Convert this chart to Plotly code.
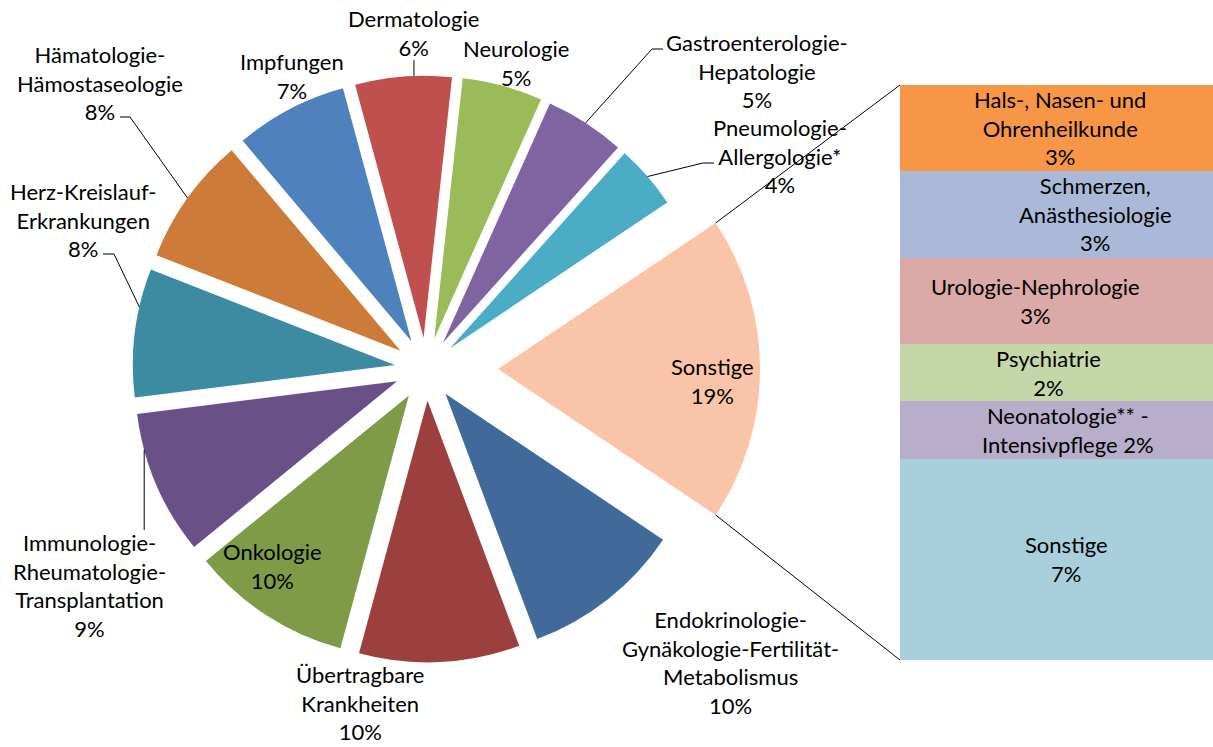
import math
import plotly.graph_objects as go

# ---------------- data ----------------
categories = [
    "Sonstige",
    "Endokrinologie-Gynäkologie-Fertilität-Metabolismus",
    "Übertragbare Krankheiten",
    "Onkologie",
    "Immunologie-Rheumatologie-Transplantation",
    "Herz-Kreislauf-Erkrankungen",
    "Hämatologie-Hämostaseologie",
    "Impfungen",
    "Dermatologie",
    "Neurologie",
    "Gastroenterologie-Hepatologie",
    "Pneumologie-Allergologie*",
]
shares = [19, 10, 10, 10, 9, 8, 8, 7, 6, 5, 5, 4]
label_names = [
    "Sonstige",
    "Endokrinologie-<br>Gynäkologie-Fertilität-<br>Metabolismus",
    "Übertragbare<br>Krankheiten",
    "Onkologie",
    "Immunologie-<br>Rheumatologie-<br>Transplantation",
    "Herz-Kreislauf-<br>Erkrankungen",
    "Hämatologie-<br>Hämostaseologie",
    "Impfungen",
    "Dermatologie",
    "Neurologie",
    "Gastroenterologie-<br>Hepatologie",
    "Pneumologie-<br>Allergologie*",
]
pie_colors = ["#F9C4A8", "#416A9B", "#9C403F", "#7F9B48", "#695086", "#3C8BA3",
              "#CC7B38", "#4F81BD", "#C0504D", "#9BBB59", "#8064A2", "#4BACC6"]

sub_categories = [
    "Hals-, Nasen- und Ohrenheilkunde",
    "Schmerzen, Anästhesiologie",
    "Urologie-Nephrologie",
    "Psychiatrie",
    "Neonatologie** - Intensivpflege",
    "Sonstige",
]
sub_shares = [3, 3, 3, 2, 2, 7]
sub_label_text = [
    "Hals-, Nasen- und<br>Ohrenheilkunde<br>3%",
    "Schmerzen,<br>Anästhesiologie<br>3%",
    "Urologie-Nephrologie<br>3%",
    "Psychiatrie<br>2%",
    "Neonatologie** -<br>Intensivpflege 2%",
    "Sonstige<br>7%",
]
sub_colors = ["#F79646", "#A9B9D7", "#DAA9A8", "#C5D6A9", "#B8ADCA", "#A9CEDC"]

# ---------------- layout constants (pixels) ----------------
W, H = 1213, 747
CX, CY, R = 426.0, 369.0, 262.0
PULL_OTHER, PULL_REST = 0.12, 0.275
BX0, BX1, BY0, BY1 = 900, 1213, 85, 660
FONT = dict(family="Lato, Noto Sans, sans-serif", size=22, color="#000000")


def paper(x, y):
    return x / W, 1 - y / H


pulls = [PULL_REST] + [PULL_OTHER] * (len(shares) - 1)
total = sum(shares)
spans = [v / total * 360 for v in shares]
rotation = 90 - spans[0] / 2
starts = []
a = rotation
for s in spans:
    starts.append(a)
    a += s
bis = [st + sp / 2 for st, sp in zip(starts, spans)]


def arc_point(i, f=0.5, rad=R):
    pc = (CX + pulls[i] * R * math.sin(math.radians(bis[i])),
          CY - pulls[i] * R * math.cos(math.radians(bis[i])))
    th = math.radians(starts[i] + f * spans[i])
    return pc[0] + rad * math.sin(th), pc[1] - rad * math.cos(th)


half = R * (1 + max(pulls))
fig = go.Figure()
fig.add_trace(go.Pie(
    values=shares, labels=categories, sort=False, direction="clockwise",
    rotation=rotation, pull=pulls, textinfo="none",
    marker=dict(colors=pie_colors, line=dict(width=0)),
    domain=dict(x=[(CX - half) / W, (CX + half) / W],
                y=[1 - (CY + half) / H, 1 - (CY - half) / H]),
    showlegend=False, hoverinfo="label+percent",
))

for k in reversed(range(len(sub_shares))):
    fig.add_trace(go.Bar(
        x=[0], y=[sub_shares[k]], width=1, name=sub_categories[k],
        marker=dict(color=sub_colors[k], line=dict(width=0)),
        showlegend=False, hoverinfo="name+y",
    ))

annotations = []
shapes = []

# leader lines
derm_anchor = arc_point(8, 0.61)
imm_anchor = arc_point(4, 0.75)
leaders = [
    (6, 0.5, [(120, 117), (130, 117)]),
    (5, 0.7, [(103, 254), (114, 254)]),
    (10, 0.5, [(663, 49), (652, 49)]),
    (11, 0.5, [(714, 163), (703, 163)]),
]
paths = []
for i, f, pts in leaders:
    paths.append(pts + [arc_point(i, f)])
paths.append([(derm_anchor[0], 60), derm_anchor])
paths.append([(imm_anchor[0], 530), imm_anchor])
for pts in paths:
    d = ""
    for j, (x, y) in enumerate(pts):
        px, py = paper(x, y)
        d += ("M" if j == 0 else " L") + f" {px:.5f},{py:.5f}"
    shapes.append(dict(type="path", path=d, xref="paper", yref="paper",
                       line=dict(color="black", width=1)))

# connector lines from the "Sonstige" slice to the bar
top_c = arc_point(0, 0.0)
bot_c = arc_point(0, 1.0)
for (x0, y0), (x1, y1) in [(top_c, (BX0, BY0)), (bot_c, (BX0, BY1))]:
    p0, p1 = paper(x0, y0), paper(x1, y1)
    shapes.append(dict(type="line", xref="paper", yref="paper",
                       x0=p0[0], y0=p0[1], x1=p1[0], y1=p1[1],
                       line=dict(color="black", width=1)))

# pie labels (pixel centres)
label_pos = [
    (712, 381), (730, 662), (360, 703), (272, 566), (89, 585), (83, 220),
    (100, 83), (292, 76), (derm_anchor[0], 33), (516, 63), (757, 71), (780, 156),
]
for name, v, (x, y) in zip(label_names, shares, label_pos):
    px, py = paper(x, y)
    annotations.append(dict(x=px, y=py, xref="paper", yref="paper",
                            text=f"{name}<br>{v}%", showarrow=False,
                            xanchor="center", yanchor="middle", align="center",
                            font=FONT))

# bar labels
sub_label_x = [1060, 1095, 1035, 1048, 1068, 1066]
cum = sum(sub_shares)
for txt, v, x in zip(sub_label_text, sub_shares, sub_label_x):
    mid = cum - v / 2
    cum -= v
    annotations.append(dict(x=x / W, y=mid, xref="paper", yref="y",
                            text=txt, showarrow=False, xanchor="center",
                            yanchor="middle", align="center", font=FONT))

fig.update_layout(
    width=W, height=H, margin=dict(l=0, r=0, t=0, b=0),
    paper_bgcolor="white", plot_bgcolor="white",
    barmode="stack", bargap=0,
    xaxis=dict(domain=[BX0 / W, BX1 / W], range=[-0.5, 0.5], visible=False),
    yaxis=dict(domain=[1 - BY1 / H, 1 - BY0 / H], range=[0, sum(sub_shares)],
               visible=False),
    annotations=annotations, shapes=shapes, showlegend=False,
)

fig.write_html("out.html",
               config={"displayModeBar": False},
               post_script="document.body.style.margin='0';"
                           "document.body.style.overflow='hidden';")
